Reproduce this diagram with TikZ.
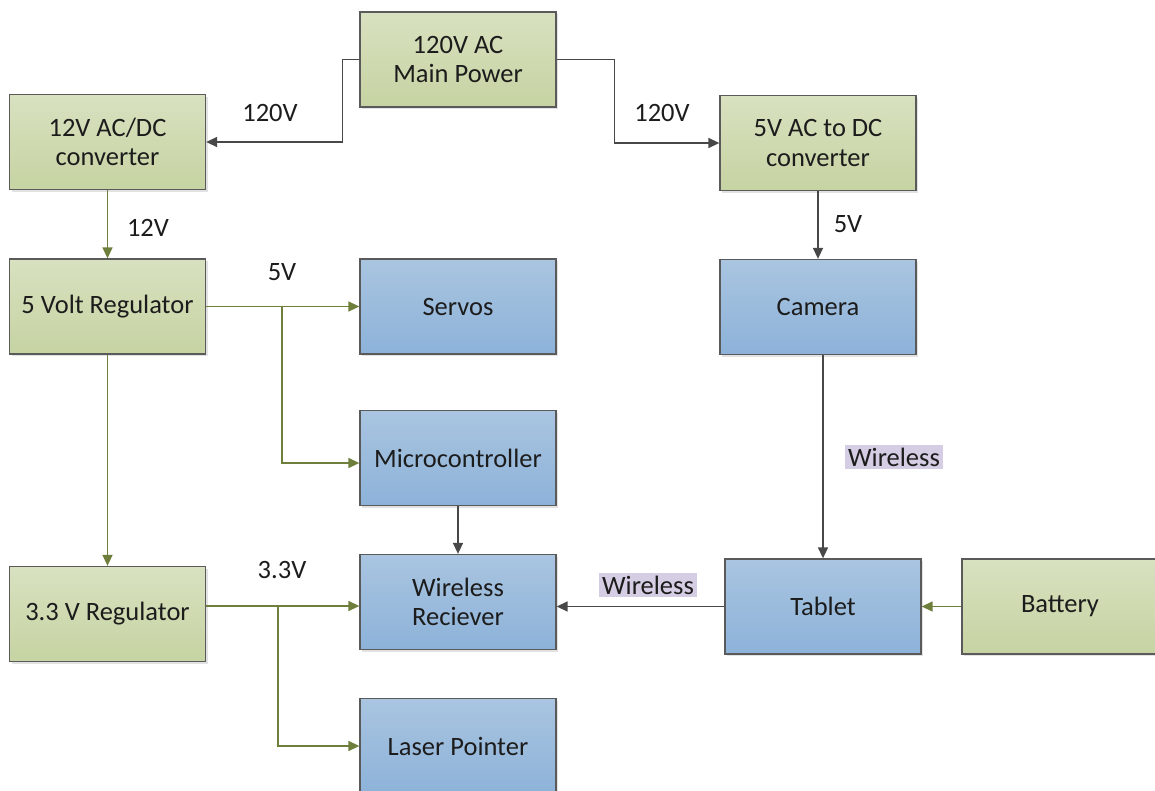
\documentclass[tikz,border=0pt]{standalone}
\usepackage{fontspec}
\setmainfont{Carlito}
\usetikzlibrary{arrows.meta,shadows}

\definecolor{greentop}{HTML}{D8E1C0}
\definecolor{greenbot}{HTML}{C6D3A2}
\definecolor{bluetop}{HTML}{A9C5E0}
\definecolor{bluebot}{HTML}{8DB2D9}
\definecolor{edgegray}{HTML}{5A5A5A}
\definecolor{olive}{HTML}{6E7F3C}
\definecolor{wiregray}{HTML}{484848}
\definecolor{tagbg}{HTML}{D5CDE3}
\definecolor{ink}{HTML}{1C1C1C}

\begin{document}
\begin{tikzpicture}[x=1pt,y=-1pt,
  txt/.style={font=\fontsize{26.5}{29.5}\selectfont, text=ink},
  box/.style={txt, draw=edgegray, line width=1.3pt, minimum width=196pt,
    minimum height=95pt, inner sep=0pt, align=center,
    drop shadow={shadow xshift=2pt, shadow yshift=-2pt, fill=black!25, opacity=0.45}},
  greenbox/.style={box, top color=greentop, bottom color=greenbot},
  bluebox/.style={box, top color=bluetop, bottom color=bluebot},
  powerline/.style={draw=olive, line width=1.5pt, -{Triangle[length=11pt,width=10pt]}},
  dataline/.style={draw=wiregray, line width=1.5pt, -{Triangle[length=11pt,width=10pt]}},
  lbl/.style={txt, inner sep=0pt},
  tag/.style={txt, fill=tagbg, inner xsep=3.5pt, inner ysep=3pt}
]
\useasboundingbox (0,0) rectangle (1155,790);
\clip (0,0) rectangle (1155,790);

% power sources and converters
\node[greenbox] (main)    at (458,59.5)  {120V AC\\Main Power};
\node[greenbox] (conv12)  at (107.5,142) {12V AC/DC\\converter};
\node[greenbox] (conv5)   at (818,143)   {5V AC to DC\\converter};
\node[greenbox] (reg5)    at (107.5,306.5) {5 Volt Regulator};
\node[greenbox] (reg33)   at (107.5,614) {3.3 V Regulator};
\node[greenbox] (battery) at (1060,606.5) {Battery};

% loads and devices
\node[bluebox] (servos) at (458,306.5) {Servos};
\node[bluebox] (camera) at (818,307)   {Camera};
\node[bluebox] (micro)  at (458,458)   {Microcontroller};
\node[bluebox] (wrx)    at (458,602)   {Wireless\\Reciever};
\node[bluebox] (tablet) at (823,606.5) {Tablet};
\node[bluebox] (laser)  at (458,746)   {Laser Pointer};

% junctions of the branching supply lines
\coordinate (j5)  at (282,306.5);
\coordinate (j33) at (278,606);

% mains feed
\draw[dataline] (main.west) -- ++(-17,0) |- (conv12.east);
\draw[dataline] (main.east) -- ++(58,0) |- (conv5.west);

% 5 V and 3.3 V supply
\draw[powerline] (conv12.south) -- (reg5.north);
\draw[powerline] (reg5.east) -- (servos.west);
\draw[powerline] (j5) |- ([yshift=-5pt]micro.west);
\draw[powerline] (reg5.south) -- (reg33.north);
\draw[powerline] (reg33.east |- j33) -- (wrx.west |- j33);
\draw[powerline] (j33) |- (laser.west);
\draw[powerline] (battery.west) -- (tablet.east);

% signal path
\draw[dataline] (micro.south) -- (wrx.north);
\draw[dataline] (conv5.south) -- (camera.north);
\draw[dataline] (tablet.north |- camera.south) -- (tablet.north);
\draw[dataline] (tablet.west) -- (wrx.east |- tablet.west);

% line labels
\node[lbl] (l120a) at (270,113) {120V};
\node[lbl] (l120b) at (662,113) {120V};
\node[lbl] (l12)   at (148,228) {12V};
\node[lbl] (l5a)   at (282,272) {5V};
\node[lbl] (l5b)   at (848,224) {5V};
\node[lbl] (l33)   at (282,570) {3.3V};
\node[tag] (w1) at (894,457) {Wireless};
\node[tag] (w2) at (648,585) {Wireless};
\end{tikzpicture}
\end{document}
